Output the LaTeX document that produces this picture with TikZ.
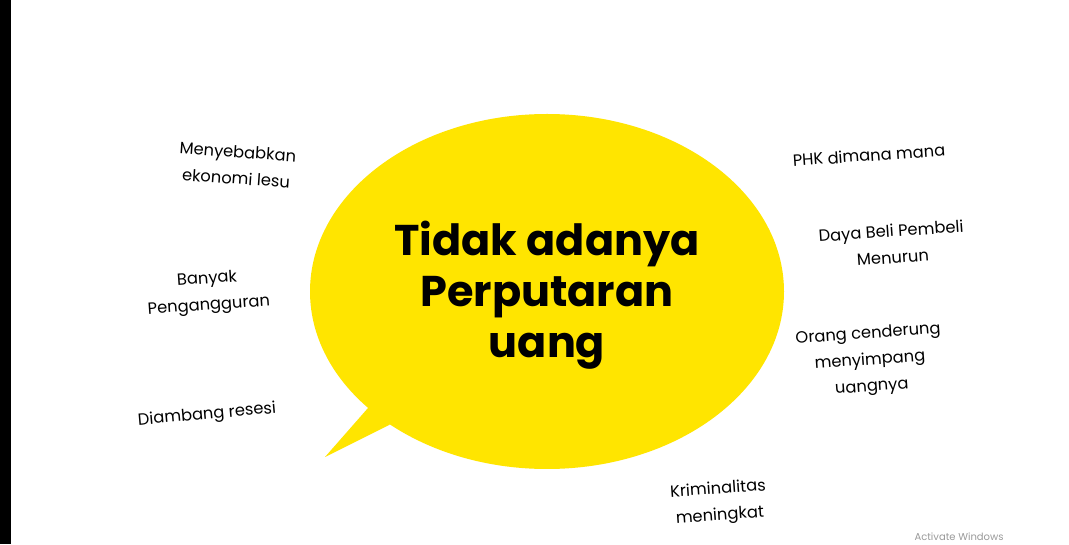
\documentclass[tikz,border=0pt]{standalone}
\usepackage{fontspec}
\setmainfont{Poppins}
\newfontfamily\titlefont{Poppins}[UprightFont=* Bold]
\definecolor{bubble}{HTML}{FFE500}
\definecolor{wmark}{HTML}{9A9A9A}
\tikzset{
  lbl/.style={align=center, inner sep=0pt, font=\fontsize{16.3}{26.5}\selectfont, text=black},
}
\begin{document}
\begin{tikzpicture}[x=1pt,y=1pt]
\useasboundingbox (0,0) rectangle (1069,544);
\fill[white] (0,0) rectangle (1069,544);
\fill[black] (0,0) rectangle (11,544);
% speech bubble
\fill[bubble] (547,252.5) ellipse [x radius=237, y radius=177.5];
\fill[bubble] (368,136) -- (325,87) -- (389,119) -- (420,140) -- cycle;
\node[font=\titlefont\fontsize{43}{51}\selectfont, align=center, inner sep=0pt] (title) at (547,249) {Tidak adanya\\Perputaran\\uang};
% labels
\node[lbl, rotate=-4] (ekon) at (237,379) {Menyebabkan\\ekonomi lesu};
\node[lbl, rotate=4] (pengangguran) at (208,251) {Banyak\\Pengangguran};
\node[lbl, rotate=5] (resesi) at (207,129) {Diambang resesi};
\node[lbl, rotate=4] (phk) at (869,389) {PHK dimana mana};
\node[lbl, rotate=4] (daya) at (892,300) {Daya Beli Pembeli\\Menurun};
\node[lbl, rotate=4] (orang) at (870,183) {Orang cenderung\\menyimpang\\uangnya};
\node[lbl, rotate=4] (krim) at (719,41) {Kriminalitas\\meningkat};
\node[font=\fontsize{10}{12}\selectfont, text=wmark, inner sep=0pt] (wm) at (959,7) {Activate Windows};
\end{tikzpicture}
\end{document}
